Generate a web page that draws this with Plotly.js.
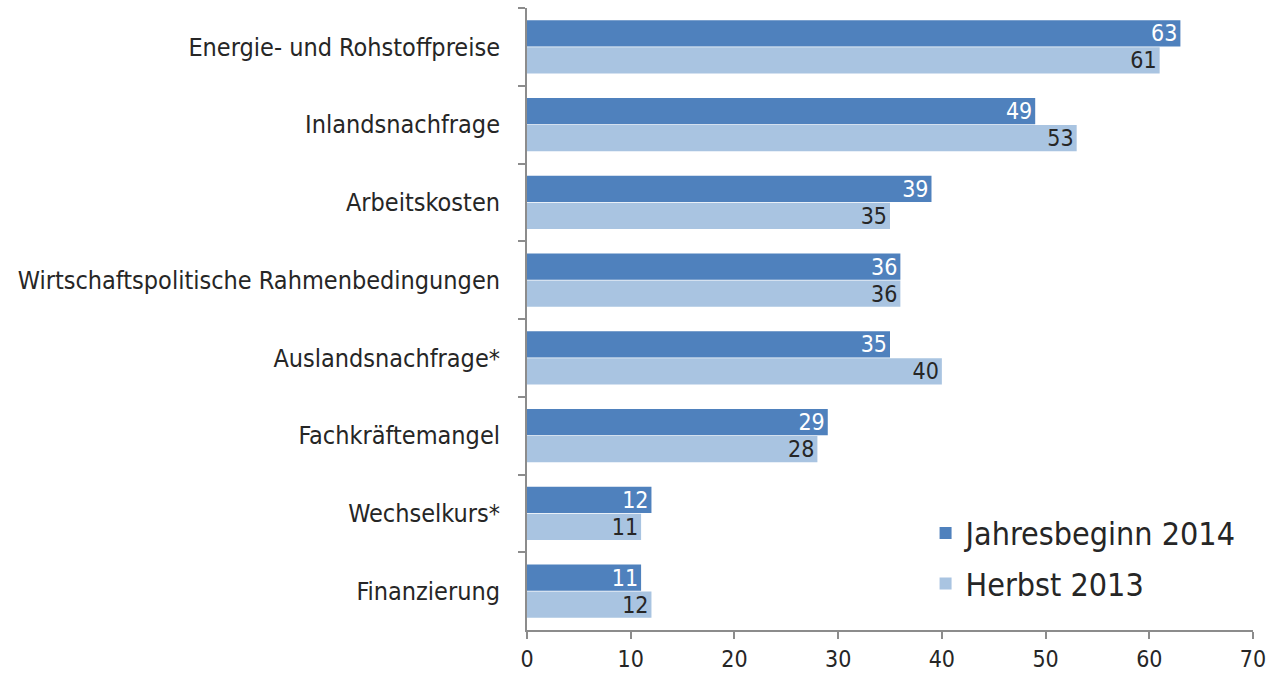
<!DOCTYPE html>
<html>
<head>
<meta charset="utf-8">
<script src="https://cdn.plot.ly/plotly-3.0.1.min.js"></script>
<style>html,body{margin:0;padding:0;background:#fff;}#chart{width:1278px;height:679px;}</style>
</head>
<body>
<div id="chart"></div>
<script>
const categories = [
  "Energie- und Rohstoffpreise",
  "Inlandsnachfrage",
  "Arbeitskosten",
  "Wirtschaftspolitische Rahmenbedingungen",
  "Auslandsnachfrage*",
  "Fachkräftemangel",
  "Wechselkurs*",
  "Finanzierung"
];
const seriesNames = ["Jahresbeginn 2014", "Herbst 2013"];
const jahresbeginn2014 = [63, 49, 39, 36, 35, 29, 12, 11];
const herbst2013 = [61, 53, 35, 36, 40, 28, 11, 12];
const xTicks = [0, 10, 20, 30, 40, 50, 60, 70];

const FONT = '"DejaVu Sans Condensed", "Liberation Sans Narrow", "Open Sans", sans-serif';

const traces = [
  {
    type: 'bar', orientation: 'h', name: seriesNames[0], legendgroup: 'a',
    y: categories, x: jahresbeginn2014,
    marker: {color: '#4f81bd'},
    text: jahresbeginn2014.map(String), textposition: 'inside', insidetextanchor: 'end',
    constraintext: 'none',
    textfont: {color: '#ffffff', size: 23, family: FONT},
    hoverinfo: 'x+name'
  },
  {
    type: 'bar', orientation: 'h', name: seriesNames[1], legendgroup: 'b',
    y: categories, x: herbst2013,
    marker: {color: '#a9c4e1'},
    text: herbst2013.map(String), textposition: 'inside', insidetextanchor: 'end',
    constraintext: 'none',
    textfont: {color: '#262626', size: 23, family: FONT},
    hoverinfo: 'x+name'
  }
];

const layout = {
  width: 1278, height: 679,
  margin: {l: 527, r: 25, t: 8, b: 49, pad: 0},
  paper_bgcolor: '#ffffff', plot_bgcolor: '#ffffff',
  font: {family: FONT, color: '#262626', size: 23},
  barmode: 'group', bargap: 0.31, bargroupgap: 0.02,
  showlegend: true,
  legend: {
    x: 0.549, y: 0.2, xanchor: 'left', yanchor: 'top',
    font: {size: 32, family: FONT, color: '#262626'},
    bgcolor: 'rgba(0,0,0,0)', traceorder: 'grouped',
    itemwidth: 30, tracegroupgap: 6
  },
  xaxis: {
    range: [0, 70], tickvals: xTicks, ticktext: xTicks.map(String),
    showgrid: false, zeroline: false,
    showline: true, linecolor: '#8c8c8c', linewidth: 2,
    ticks: 'outside', ticklen: 7, tickcolor: '#8c8c8c', tickwidth: 2,
    tickfont: {size: 23, family: FONT, color: '#262626'},
    fixedrange: true
  },
  yaxis: {
    type: 'category', autorange: 'reversed',
    showgrid: false, zeroline: false,
    showline: true, linecolor: '#8c8c8c', linewidth: 2,
    ticks: 'outside', tickson: 'boundaries', ticklen: 7, tickcolor: '#8c8c8c', tickwidth: 2,
    ticklabelstandoff: 20,
    tickfont: {size: 25, family: FONT, color: '#262626'},
    fixedrange: true
  }
};

Plotly.newPlot('chart', traces, layout, {displayModeBar: false, staticPlot: true});
</script>
</body>
</html>
